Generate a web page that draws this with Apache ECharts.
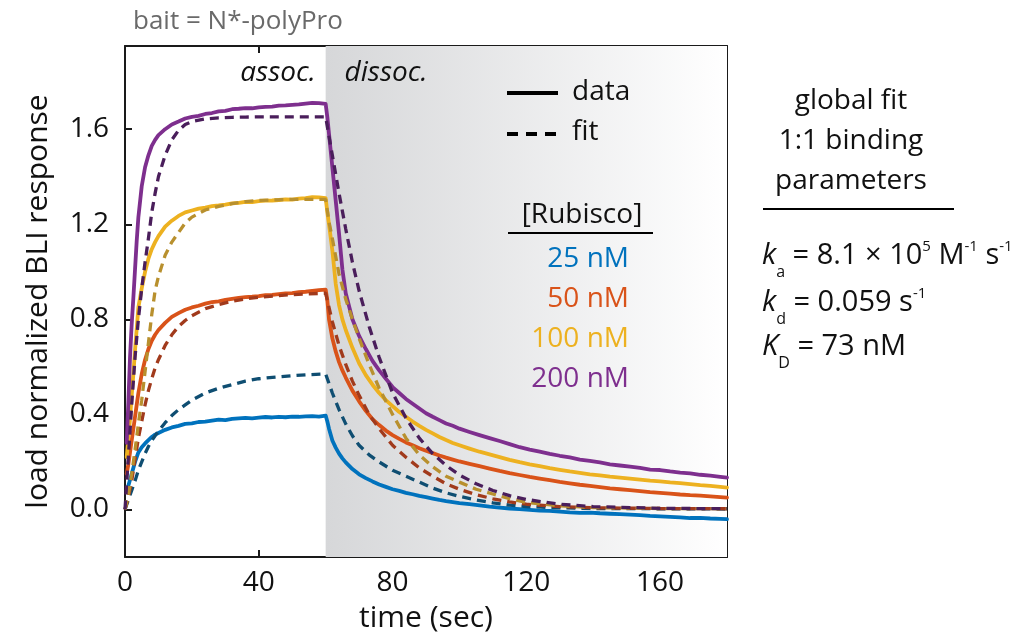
<!DOCTYPE html>
<html><head><meta charset="utf-8">
<script src="https://cdn.jsdelivr.net/npm/echarts@6/dist/echarts.min.js"></script>
<style>html,body{margin:0;padding:0;background:#fff}#c{width:1036px;height:638px}</style>
</head><body><div id="c"></div>
<script>
// ---- data ----
const tData = [0.5,1,1.5,2,2.5,3,3.5,4,5,6,7,8,9,10,12,14,16,18,20,22,24,26,28,30,32,34,36,38,40,42,44,46,48,50,52,54,56,58,60,
  60.5,61,62,63,64,65,66,68,70,72,74,76,78,80,82,84,86,88,90,92,94,96,98,100,103,106,109,112,115,118,121,124,127,130,133,136,139,142,145,148,151,154,157,160,163,166,169,172,175,178,180];
const data25 = [0.08,0.10,0.125,0.15,0.175,0.20,0.22,0.24,0.262,0.278,0.292,0.305,0.315,0.322,0.335,0.345,0.352,0.36,0.362,0.368,0.37,0.374,0.378,0.376,0.381,0.383,0.385,0.383,0.386,0.389,0.387,0.39,0.388,0.391,0.39,0.392,0.393,0.391,0.395,
  0.37,0.34,0.29,0.26,0.235,0.215,0.198,0.17,0.148,0.132,0.118,0.105,0.095,0.085,0.078,0.07,0.064,0.057,0.052,0.046,0.04,0.035,0.031,0.027,0.022,0.017,0.012,0.008,0.004,0.001,-0.002,-0.005,-0.006,-0.009,-0.012,-0.014,-0.013,-0.016,-0.018,-0.02,-0.022,-0.024,-0.027,-0.029,-0.031,-0.033,-0.036,-0.035,-0.038,-0.04,-0.041];
const data50 = [0.15,0.19,0.24,0.29,0.34,0.39,0.44,0.49,0.57,0.63,0.675,0.71,0.735,0.755,0.785,0.81,0.826,0.84,0.85,0.857,0.866,0.872,0.876,0.882,0.886,0.89,0.893,0.895,0.898,0.902,0.903,0.906,0.909,0.91,0.914,0.916,0.92,0.923,0.925,
  0.88,0.80,0.72,0.665,0.62,0.585,0.555,0.50,0.455,0.415,0.38,0.355,0.332,0.313,0.297,0.282,0.27,0.258,0.247,0.237,0.227,0.218,0.21,0.202,0.192,0.182,0.172,0.162,0.153,0.145,0.137,0.13,0.123,0.116,0.11,0.104,0.099,0.094,0.089,0.085,0.081,0.077,0.073,0.07,0.067,0.063,0.06,0.058,0.055,0.052,0.05];
const data100 = [0.22,0.30,0.38,0.48,0.57,0.67,0.76,0.85,0.93,1.00,1.055,1.095,1.125,1.15,1.19,1.215,1.235,1.25,1.258,1.266,1.27,1.276,1.279,1.283,1.288,1.29,1.294,1.293,1.297,1.299,1.30,1.302,1.305,1.304,1.308,1.31,1.314,1.313,1.31,
  1.25,1.20,1.09,0.95,0.86,0.80,0.755,0.68,0.615,0.565,0.525,0.49,0.46,0.435,0.41,0.39,0.37,0.352,0.335,0.32,0.305,0.292,0.28,0.27,0.256,0.243,0.232,0.22,0.209,0.199,0.19,0.182,0.174,0.167,0.16,0.154,0.148,0.143,0.138,0.134,0.13,0.126,0.121,0.118,0.114,0.111,0.107,0.102,0.099,0.095,0.092];
const data200 = [0.28,0.45,0.64,0.78,0.89,1.01,1.13,1.23,1.36,1.44,1.49,1.53,1.555,1.575,1.60,1.62,1.632,1.645,1.652,1.656,1.664,1.668,1.675,1.677,1.684,1.686,1.689,1.688,1.692,1.694,1.695,1.699,1.700,1.702,1.704,1.708,1.711,1.710,1.706,
  1.65,1.58,1.44,1.30,1.16,1.01,0.91,0.80,0.73,0.675,0.625,0.585,0.55,0.515,0.49,0.465,0.445,0.425,0.405,0.39,0.376,0.362,0.352,0.34,0.326,0.313,0.30,0.288,0.275,0.262,0.252,0.243,0.234,0.226,0.219,0.21,0.204,0.198,0.19,0.185,0.18,0.175,0.168,0.166,0.16,0.155,0.152,0.146,0.142,0.137,0.134];

const tFit = [0,1,2,3,4,5,6,7,8,9,10,12,14,16,18,20,24,28,32,36,40,45,50,55,60,
  61,62,64,66,68,70,73,76,80,84,88,92,96,100,105,110,115,120,130,140,160,180];
const fit25 = [0,0.04,0.08,0.12,0.165,0.20,0.235,0.265,0.29,0.31,0.33,0.365,0.395,0.42,0.44,0.46,0.49,0.51,0.525,0.54,0.55,0.557,0.563,0.567,0.57,
  0.53,0.49,0.42,0.36,0.31,0.27,0.23,0.20,0.165,0.14,0.115,0.09,0.07,0.055,0.04,0.028,0.018,0.012,0.007,0.004,0.003,0.002];
const fit50 = [0,0.05,0.12,0.21,0.30,0.37,0.44,0.50,0.55,0.595,0.63,0.69,0.735,0.77,0.795,0.815,0.845,0.862,0.876,0.886,0.893,0.899,0.904,0.907,0.91,
  0.85,0.79,0.69,0.61,0.54,0.48,0.40,0.34,0.27,0.22,0.175,0.14,0.108,0.085,0.062,0.045,0.032,0.022,0.012,0.007,0.004,0.003];
const fit100 = [0,0.06,0.15,0.25,0.36,0.46,0.58,0.70,0.82,0.92,0.98,1.07,1.125,1.165,1.205,1.23,1.26,1.275,1.287,1.295,1.30,1.303,1.305,1.305,1.305,
  1.21,1.14,0.99,0.885,0.80,0.72,0.61,0.51,0.40,0.30,0.23,0.18,0.14,0.115,0.085,0.065,0.045,0.03,0.015,0.008,0.004,0.003];
const fit200 = [0,0.22,0.44,0.64,0.80,0.93,1.04,1.14,1.25,1.33,1.40,1.49,1.555,1.595,1.62,1.632,1.643,1.648,1.65,1.651,1.652,1.652,1.652,1.652,1.652,
  1.57,1.49,1.33,1.18,1.04,0.92,0.77,0.64,0.49,0.385,0.30,0.235,0.185,0.145,0.108,0.08,0.058,0.042,0.022,0.012,0.005,0.003];

const concLabels = ['25 nM','50 nM','100 nM','200 nM'];
const dataColors = ['#0072BD','#D95319','#EDB120','#7E2F8E'];
const fitColors  = ['#0F4E72','#A13A1C','#B8902E','#4A1E5B'];
const yTicks = [0,0.4,0.8,1.2,1.6];
const xTicks = [0,40,80,120,160];

// ---- chart ----
const FONT = '"Open Sans", "Noto Sans", sans-serif';
const zip = (t, v) => t.map((x, i) => [x, v[i]]);
const dataSets = [data25, data50, data100, data200];
const fitSets = [fit25, fit50, fit100, fit200];

const series = [];
series.push({
  type: 'line', data: [], silent: true,
  markArea: { silent: true, data: [[{ xAxis: 60 }, { xAxis: 180 }]],
    itemStyle: { color: { type: 'linear', x: 0, y: 0, x2: 1, y2: 0,
      colorStops: [{ offset: 0, color: '#d6d7d9' }, { offset: 1, color: '#ffffff' }] } } }
});
dataSets.forEach((d, i) => series.push({
  type: 'line', data: zip(tData, d), showSymbol: false, symbol: 'none',
  lineStyle: { color: dataColors[i], width: 3.8, cap: 'round', join: 'round' }, z: 3
}));
fitSets.forEach((d, i) => series.push({
  type: 'line', data: zip(tFit, d), showSymbol: false, symbol: 'none',
  lineStyle: { color: fitColors[i], width: 3.3, type: [9, 6] }, z: 4
}));

const axLine = { show: true, onZero: false, lineStyle: { color: '#1a1a1a', width: 2 } };
const tick = { show: true, inside: true, length: 7, lineStyle: { color: '#1a1a1a', width: 2 } };

const graphics = [];
const txt = (x, y, text, o = {}) => graphics.push({ type: 'text', x, y, z: 10,
  style: Object.assign({ text, fontFamily: FONT, fontSize: 28, fill: '#111', align: 'left', verticalAlign: 'middle' }, o) });

txt(133, 22, 'bait = N*-polyPro', { fontSize: 26, fill: '#6a6a6a' });
txt(278, 73, 'assoc.', { fontSize: 28, fontStyle: 'italic', align: 'center' });
txt(386, 73, 'dissoc.', { fontSize: 28, fontStyle: 'italic', align: 'center' });
// legend data / fit
graphics.push({ type: 'line', z: 10, shape: { x1: 507, y1: 93, x2: 558, y2: 93 }, style: { stroke: '#000', lineWidth: 4 } });
graphics.push({ type: 'line', z: 10, shape: { x1: 507, y1: 134, x2: 558, y2: 134 }, style: { stroke: '#000', lineWidth: 4, lineDash: [11, 8] } });
txt(572, 92, 'data');
txt(572, 132, 'fit');
txt(582, 215, '[Rubisco]', { align: 'center' });
graphics.push({ type: 'line', z: 10, shape: { x1: 508, y1: 233, x2: 653, y2: 233 }, style: { stroke: '#000', lineWidth: 2 } });
concLabels.forEach((s, i) => txt(629, 259 + 40 * i, s, { align: 'right', fill: dataColors[i] }));
// right panel
txt(851, 101, 'global fit', { align: 'center' });
txt(851, 141, '1:1 binding', { align: 'center' });
txt(851, 181, 'parameters', { align: 'center' });
graphics.push({ type: 'line', z: 10, shape: { x1: 763, y1: 209, x2: 954, y2: 209 }, style: { stroke: '#000', lineWidth: 2 } });
const rich = {
  i: { fontFamily: FONT, fontSize: 29, fontStyle: 'italic', lineHeight: 54, fill: '#111' },
  n: { fontFamily: FONT, fontSize: 29, lineHeight: 54, fill: '#111' },
  sub: { fontFamily: FONT, fontSize: 16, lineHeight: 20, height: 22, verticalAlign: 'bottom', fill: '#111' },
  sup: { fontFamily: FONT, fontSize: 15, lineHeight: 20, height: 36, verticalAlign: 'top', fill: '#111' }
};
const rtxt = (y, text) => graphics.push({ type: 'text', x: 762, y, z: 10,
  style: { text, rich, align: 'left', verticalAlign: 'middle' } });
rtxt(256, '{i|k}{sub|a}{n| = 8.1 × 10}{sup|5}{n| M}{sup|-1}{n| s}{sup|-1}');
rtxt(303, '{i|k}{sub|d}{n| = 0.059 s}{sup|-1}');
rtxt(347, '{i|K}{sub|D}{n| = 73 nM}');

const option = {
  animation: false,
  backgroundColor: '#fff',
  grid: { left: 125, right: 309, top: 46, bottom: 81, show: false },
  xAxis: [
    { type: 'value', min: 0, max: 180, interval: 40, position: 'bottom',
      name: 'time (sec)', nameLocation: 'middle', nameGap: 46,
      nameTextStyle: { fontFamily: FONT, fontSize: 30, color: '#111' },
      axisLine: axLine, splitLine: { show: false },
      axisTick: Object.assign({ customValues: xTicks }, tick),
      axisLabel: { customValues: xTicks, fontFamily: FONT, fontSize: 28, color: '#111', margin: 12 } },
    { type: 'value', min: 0, max: 180, interval: 40, position: 'top',
      axisLine: axLine, splitLine: { show: false },
      axisTick: Object.assign({ customValues: xTicks }, tick),
      axisLabel: { show: false, customValues: xTicks } }
  ],
  yAxis: [
    { type: 'value', min: -0.2, max: 1.95, position: 'left',
      name: 'load normalized BLI response', nameLocation: 'middle', nameGap: 72, nameRotate: 90,
      nameTextStyle: { fontFamily: FONT, fontSize: 30, color: '#111' },
      axisLine: axLine, splitLine: { show: false },
      axisTick: Object.assign({ customValues: yTicks }, tick),
      axisLabel: { customValues: yTicks, fontFamily: FONT, fontSize: 28, color: '#111', margin: 16,
        formatter: v => v.toFixed(1) } },
    { type: 'value', min: -0.2, max: 1.95, position: 'right',
      axisLine: axLine, splitLine: { show: false },
      axisTick: Object.assign({ customValues: yTicks }, tick),
      axisLabel: { show: false, customValues: yTicks } }
  ],
  series,
  graphic: graphics
};
const chart = echarts.init(document.getElementById('c'), null, { renderer: 'canvas' });
chart.setOption(option);
</script></body></html>
